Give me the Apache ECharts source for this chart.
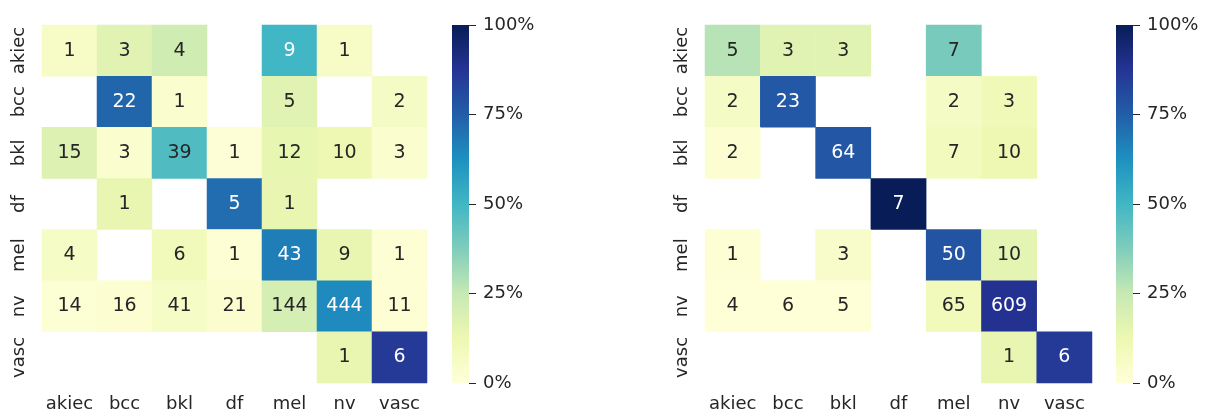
<!DOCTYPE html>
<html>
<head>
<meta charset="utf-8">
<script src="https://cdn.jsdelivr.net/npm/echarts@6/dist/echarts.min.js"></script>
<style>
  html, body { margin: 0; padding: 0; background: #ffffff; }
  #chart { width: 1205px; height: 414px; }
</style>
</head>
<body>
<div id="chart"></div>
<script>
// ---- data ----
const classes = ['akiec', 'bcc', 'bkl', 'df', 'mel', 'nv', 'vasc'];

// confusion matrix, left panel (rows = true class, cols = predicted)
const leftCounts = [
  [1, 3, 4, 0, 9, 1, 0],
  [0, 22, 1, 0, 5, 0, 2],
  [15, 3, 39, 1, 12, 10, 3],
  [0, 1, 0, 5, 1, 0, 0],
  [4, 0, 6, 1, 43, 9, 1],
  [14, 16, 41, 21, 144, 444, 11],
  [0, 0, 0, 0, 0, 1, 6]
];

// confusion matrix, right panel
const rightCounts = [
  [5, 3, 3, 0, 7, 0, 0],
  [2, 23, 0, 0, 2, 3, 0],
  [2, 0, 64, 0, 7, 10, 0],
  [0, 0, 0, 7, 0, 0, 0],
  [1, 0, 3, 0, 50, 10, 0],
  [4, 6, 5, 0, 65, 609, 0],
  [0, 0, 0, 0, 0, 1, 6]
];

const colorbarTicks = [0, 25, 50, 75, 100];
const ylgnbu = ['#ffffd9', '#edf8b1', '#c7e9b4', '#7fcdbb', '#41b6c4', '#1d91c0', '#225ea8', '#253494', '#081d58'];

// ---- build ----
const FONT = 'DejaVu Sans';
const TXT = '#262626';

function buildCells(counts) {
  const out = [];
  counts.forEach((row, r) => {
    const sum = row.reduce((a, b) => a + b, 0);
    row.forEach((v, c) => {
      if (v === 0) return;
      const p = v / sum;
      out.push({
        value: [c, r, p, v],
        label: { color: p >= 0.48 ? '#ffffff' : TXT }
      });
    });
  });
  return out;
}

const gradStops = ylgnbu.map((c, i) => ({ offset: i / (ylgnbu.length - 1), color: c }));

function catX(gi) {
  return {
    type: 'category', gridIndex: gi, data: classes,
    axisLine: { show: false }, axisTick: { show: false }, splitArea: { show: false },
    axisLabel: { interval: 0, fontFamily: FONT, fontSize: 18, color: TXT, margin: 12 }
  };
}
function catY(gi) {
  return {
    type: 'category', gridIndex: gi, data: classes, inverse: true,
    axisLine: { show: false }, axisTick: { show: false }, splitArea: { show: false },
    axisLabel: { interval: 0, fontFamily: FONT, fontSize: 18, color: TXT, rotate: 90, margin: 14 }
  };
}
function cbX(gi) {
  return { type: 'category', gridIndex: gi, data: [''], show: false };
}
function cbY(gi) {
  return {
    type: 'value', gridIndex: gi, position: 'right',
    min: colorbarTicks[0], max: colorbarTicks[colorbarTicks.length - 1], interval: 25,
    splitLine: { show: false }, axisLine: { show: false },
    axisTick: { show: true, length: 7, lineStyle: { color: TXT, width: 1 } },
    axisLabel: { fontFamily: FONT, fontSize: 18, color: TXT, margin: 14, formatter: '{value}%' }
  };
}

function heat(xi, yi, counts) {
  return {
    type: 'heatmap', xAxisIndex: xi, yAxisIndex: yi,
    data: buildCells(counts),
    label: {
      show: true, fontFamily: FONT, fontSize: 19,
      formatter: (p) => String(p.value[3])
    },
    itemStyle: { borderWidth: 0 },
    emphasis: { disabled: true }
  };
}
function cbar(xi, yi) {
  return {
    type: 'bar', xAxisIndex: xi, yAxisIndex: yi,
    data: [colorbarTicks[colorbarTicks.length - 1]],
    barWidth: '100%', silent: true,
    itemStyle: { color: { type: 'linear', x: 0, y: 1, x2: 0, y2: 0, colorStops: gradStops } }
  };
}

const chart = echarts.init(document.getElementById('chart'), null, { renderer: 'canvas' });
chart.setOption({
  animation: false,
  backgroundColor: '#ffffff',
  grid: [
    { left: 42, top: 25, width: 385, height: 358 },
    { left: 452, top: 25, width: 17, height: 358 },
    { left: 705, top: 25, width: 387, height: 358 },
    { left: 1116, top: 25, width: 17, height: 358 }
  ],
  xAxis: [catX(0), cbX(1), catX(2), cbX(3)],
  yAxis: [catY(0), cbY(1), catY(2), cbY(3)],
  visualMap: {
    type: 'continuous', show: false, min: 0, max: 1, dimension: 2,
    seriesIndex: [0, 2], inRange: { color: ylgnbu }
  },
  series: [heat(0, 0, leftCounts), cbar(1, 1), heat(2, 2, rightCounts), cbar(3, 3)]
});
</script>
</body>
</html>
